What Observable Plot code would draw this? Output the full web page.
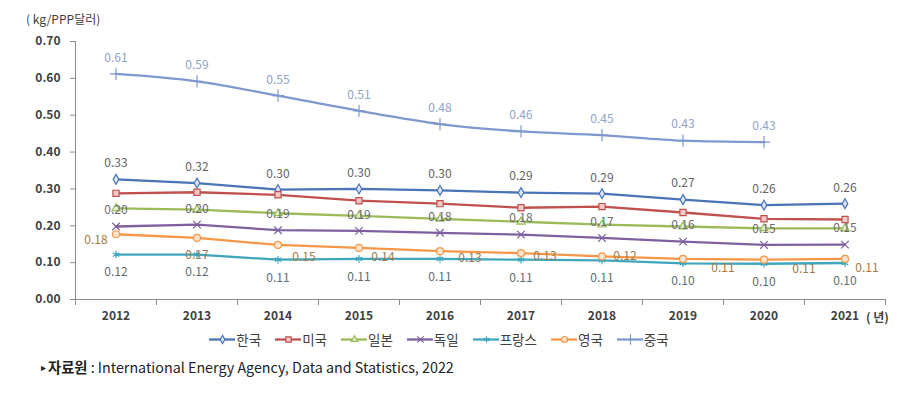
<!DOCTYPE html>
<html>
<head>
<meta charset="utf-8">
<script src="https://cdn.jsdelivr.net/npm/d3@7"></script>
<script src="https://cdn.jsdelivr.net/npm/@observablehq/plot@0.6"></script>
<style>
  html, body { margin: 0; padding: 0; background: #fff; }
  body { width: 922px; height: 402px; position: relative; overflow: hidden; font-family: "Noto Sans CJK KR", "Noto Sans", sans-serif; }
  #chart { position: absolute; left: 0; top: 0; }
  .unit { position: absolute; font-size: 12px; color: #404040; white-space: nowrap; }
  #legend { position: absolute; left: 0; width: 922px; top: 329px; display: flex; justify-content: center; gap: 14px; font-size: 13.5px; color: #404040; padding-right: 44px; box-sizing: border-box; }
  #legend .item { display: flex; align-items: center; gap: 1px; }
  #source { position: absolute; left: 41px; top: 356px; font-size: 14.3px; color: #222; white-space: nowrap; }
  #source .tri { font-size: 10px; vertical-align: 2px; margin-right: 2px; }
</style>
</head>
<body>
<div id="chart"></div>
<div class="unit" style="left:26px; top:10px;">( kg/PPP달러)</div>
<div class="unit" style="left:866px; top:308px; font-weight:bold;">( 년)</div>
<div id="legend"></div>
<div id="source"><span class="tri">▸</span><b>자료원</b> : International Energy Agency, Data and Statistics, 2022</div>
<script>
const years   = [2012, 2013, 2014, 2015, 2016, 2017, 2018, 2019, 2020, 2021];
const korea   = [0.326, 0.316, 0.298, 0.300, 0.296, 0.290, 0.287, 0.271, 0.256, 0.260];
const usa     = [0.288, 0.291, 0.284, 0.268, 0.260, 0.249, 0.252, 0.236, 0.219, 0.217];
const japan   = [0.247, 0.244, 0.234, 0.227, 0.219, 0.211, 0.203, 0.198, 0.193, 0.193];
const germany = [0.198, 0.203, 0.188, 0.186, 0.181, 0.176, 0.167, 0.157, 0.148, 0.149];
const france  = [0.122, 0.122, 0.108, 0.110, 0.110, 0.108, 0.106, 0.098, 0.097, 0.099];
const uk      = [0.177, 0.167, 0.148, 0.140, 0.131, 0.126, 0.117, 0.110, 0.108, 0.110];
const china   = [0.612, 0.592, 0.553, 0.512, 0.476, 0.456, 0.446, 0.431, 0.427, null];
const yTicks  = [0, 0.1, 0.2, 0.3, 0.4, 0.5, 0.6, 0.7];

const seriesNames = ["한국", "미국", "일본", "독일", "프랑스", "영국", "중국"];
const seriesVals  = [korea, usa, japan, germany, france, uk, china];

// styles (not data)
const styles = {
  "한국":  {stroke: "#4A74B8", symbol: "diamond", fill: "#dbe4f3", r: 3},
  "미국":  {stroke: "#C0504D", symbol: "square", fill: "#f2c9c8", r: 3.5},
  "일본":  {stroke: "#9BBB59", symbol: "triangle", fill: "#e3edd2", r: 3},
  "독일":  {stroke: "#7E60A0", symbol: "times", fill: "none", r: 3.5},
  "프랑스": {stroke: "#3FA6BD", symbol: "asterisk", fill: "none", r: 3.5},
  "영국":  {stroke: "#F79646", symbol: "circle", fill: "#fde4cc", r: 3.5},
  "중국":  {stroke: "#7F98CE", symbol: "plus", fill: "none", r: 4}
};

const rows = seriesNames.map((name, s) => years.map((year, i) => ({name, year, value: seriesVals[s][i]})).filter(d => d.value != null));

const fmt = v => v.toFixed(2);
const font = "'Noto Sans CJK KR', 'Noto Sans', sans-serif";

function labels(data, opts) {
  return Plot.text(data, {x: "year", y: "value", text: d => fmt(d.value), fontSize: 12, ...opts});
}

// UK label placement offsets (style only)
const ukOffsets = [[-20, 6], [0, 17], [26, 12], [24, 9], [30, 7], [24, 3], [23, 0], [40, 9], [40, 9], [22, 9]];

const marks = [
  Plot.ruleY([0], {stroke: "#8c8c8c"}),
  Plot.ruleX([2011.5], {y1: 0, y2: 0.7, stroke: "#8c8c8c"}),
  Plot.axisY({ticks: yTicks, tickFormat: d => d.toFixed(2), tickSize: 5, tickPadding: 10, fontSize: 12, fontWeight: "bold", stroke: "#8c8c8c", fill: "#404040", label: null}),
  Plot.axisX({ticks: years, tickFormat: d => String(d), tickSize: 0, tickPadding: 12, fontSize: 12, fontWeight: "bold", fill: "#404040", label: null}),
  Plot.axisX({ticks: d3.range(2011.5, 2022, 1), tickFormat: () => "", tickSize: 6, stroke: "#8c8c8c", label: null})
];

seriesNames.forEach((name, s) => {
  const st = styles[name];
  marks.push(Plot.line(rows[s], {x: "year", y: "value", stroke: st.stroke, strokeWidth: 2.3, curve: name === "중국" ? "monotone-x" : "linear"}));
  marks.push(Plot.dot(rows[s], {x: "year", y: "value", symbol: st.symbol, r: st.r, stroke: st.stroke, fill: st.fill, strokeWidth: 1.2}));
});

marks.push(labels(rows[0], {dy: -16, fill: "#636363"}));
marks.push(labels(rows[6], {dy: -16, fill: "#8FA3C6"}));
marks.push(labels(rows[3], {dy: -16, fill: "#6a6a72"}));
marks.push(labels(rows[4], {dy: 18, fill: "#5d6d72"}));
rows[5].forEach((d, i) => {
  marks.push(labels([d], {dx: ukOffsets[i][0], dy: ukOffsets[i][1], fill: "#9c7a4c"}));
});

const chart = Plot.plot({
  width: 922,
  height: 328,
  marginTop: 41,
  marginBottom: 29,
  marginLeft: 75,
  marginRight: 37,
  style: {fontFamily: font, background: "white", overflow: "visible"},
  x: {type: "linear", domain: [2011.5, 2021.5]},
  y: {domain: [0, 0.7]},
  marks
});
document.getElementById("chart").appendChild(chart);

// legend
const legend = document.getElementById("legend");
seriesNames.forEach(name => {
  const st = styles[name];
  const item = document.createElement("div");
  item.className = "item";
  const sw = Plot.plot({
    width: 26, height: 12, margin: 0, axis: null,
    x: {domain: [0, 2]}, y: {domain: [0, 1]},
    marks: [
      Plot.ruleY([0.5], {stroke: st.stroke, strokeWidth: 2.3}),
      Plot.dot([[1, 0.5]], {symbol: st.symbol, r: st.r - 0.5, stroke: st.stroke, fill: st.fill, strokeWidth: 1.2})
    ]
  });
  item.appendChild(sw);
  const t = document.createElement("span");
  t.textContent = name;
  item.appendChild(t);
  legend.appendChild(item);
});
</script>
</body>
</html>
